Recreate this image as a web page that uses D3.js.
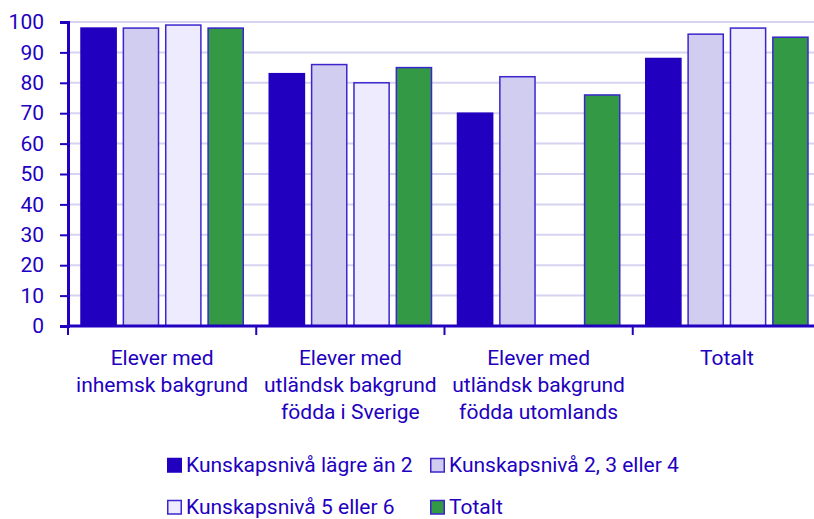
<!DOCTYPE html>
<html>
<head>
<meta charset="utf-8">
<script src="https://cdn.jsdelivr.net/npm/d3@7"></script>
<style>
  body { margin: 0; background: #fff; }
  text { font-family: Roboto, "Noto Sans", sans-serif; fill: #2200c0; }
</style>
</head>
<body>
<div id="chart"></div>
<script>
var svgWidth = 814;
var svgHeight = 519;

var categories = [
  ["Elever med", "inhemsk bakgrund"],
  ["Elever med", "utländsk bakgrund", "födda i Sverige"],
  ["Elever med", "utländsk bakgrund", "födda utomlands"],
  ["Totalt"]
];
var seriesNames = ["Kunskapsnivå lägre än 2", "Kunskapsnivå 2, 3 eller 4", "Kunskapsnivå 5 eller 6", "Totalt"];
var level1 = [98, 83, 70, 88];
var level234 = [98, 86, 82, 96];
var level56 = [99, 80, null, 98];
var totalt = [98, 85, 76, 95];
var yTicks = [0, 10, 20, 30, 40, 50, 60, 70, 80, 90, 100];

var colors = ["#2200c0", "#d1cdf0", "#edebfd", "#339944"];
var textColor = "#2200c0";

// plot runs a little past the right edge, like the original
var margin = { top: 22, right: -7, bottom: 193, left: 68 };
var width = svgWidth - margin.left - margin.right;
var height = svgHeight - margin.top - margin.bottom;

var seriesValues = [level1, level234, level56, totalt];
var data = categories.map((c, i) => ({
  idx: i,
  values: seriesValues.map((s, j) => ({ series: j, value: s[i] }))
}));

var svg = d3.select("#chart")
  .append("svg")
  .attr("width", svgWidth)
  .attr("height", svgHeight);

var chartGroup = svg.append("g")
  .attr("transform", `translate(${margin.left}, ${margin.top})`);

var x0 = d3.scaleBand()
  .domain(d3.range(categories.length))
  .range([0, width]);

var x1 = d3.scaleBand()
  .domain(d3.range(seriesNames.length))
  .range([13, x0.bandwidth() - 13])
  .paddingInner(0.17);

var y = d3.scaleLinear()
  .domain([0, 100])
  .range([height, 0]);

// gridlines
chartGroup.append("g")
  .selectAll("line")
  .data(yTicks.filter(d => d > 0))
  .enter()
  .append("line")
  .attr("x1", 0)
  .attr("x2", width)
  .attr("y1", d => y(d))
  .attr("y2", d => y(d))
  .attr("stroke", "#d6d3f0")
  .attr("stroke-width", 2);

// bars
var groups = chartGroup.selectAll(".group")
  .data(data)
  .enter()
  .append("g")
  .attr("transform", d => `translate(${x0(d.idx)}, 0)`);

groups.selectAll("rect")
  .data(d => d.values.filter(v => v.value != null))
  .enter()
  .append("rect")
  .attr("x", d => x1(d.series))
  .attr("y", d => y(d.value))
  .attr("width", x1.bandwidth())
  .attr("height", d => height - y(d.value))
  .attr("fill", d => colors[d.series])
  .attr("stroke", d => d.series === 0 ? colors[0] : "#3a26cc")
  .attr("stroke-width", 1.5);

// y axis
var leftAxis = d3.axisLeft(y).tickValues(yTicks).tickSize(8).tickPadding(16);
var yAxisG = chartGroup.append("g").call(leftAxis);
yAxisG.select(".domain").attr("stroke", textColor).attr("stroke-width", 3);
yAxisG.selectAll(".tick line").attr("stroke", textColor).attr("stroke-width", 2);
yAxisG.selectAll(".tick text")
  .attr("font-size", "21px")
  .attr("fill", textColor)
  .style("font-family", "Roboto, sans-serif");

// x axis
var xAxisG = chartGroup.append("g")
  .attr("transform", `translate(0, ${height})`);
xAxisG.append("line")
  .attr("x1", 0).attr("x2", width)
  .attr("stroke", textColor).attr("stroke-width", 3);
xAxisG.selectAll(".xtick")
  .data(d3.range(categories.length + 1))
  .enter()
  .append("line")
  .attr("x1", d => d < categories.length ? x0(d) : width)
  .attr("x2", d => d < categories.length ? x0(d) : width)
  .attr("y1", 0)
  .attr("y2", 9)
  .attr("stroke", textColor)
  .attr("stroke-width", 2);

var labels = xAxisG.selectAll(".xlabel")
  .data(data)
  .enter()
  .append("text")
  .attr("text-anchor", "middle")
  .attr("font-size", "21px")
  .attr("transform", d => `translate(${x0(d.idx) + x0.bandwidth() / 2}, 39)`);

labels.selectAll("tspan")
  .data(d => categories[d.idx])
  .enter()
  .append("tspan")
  .attr("x", 0)
  .attr("y", (d, i) => i * 27)
  .text(d => d);

// legend
var legendPos = [[167, 465], [430, 465], [167, 507], [430, 507]];
var legend = svg.selectAll(".legend")
  .data(seriesNames)
  .enter()
  .append("g")
  .attr("transform", (d, i) => `translate(${legendPos[i][0]}, ${legendPos[i][1]})`);

legend.append("rect")
  .attr("x", 0.75)
  .attr("y", -6.5)
  .attr("width", 13.5)
  .attr("height", 13.5)
  .attr("fill", (d, i) => colors[i])
  .attr("stroke", (d, i) => i === 0 ? colors[0] : "#3a26cc")
  .attr("stroke-width", 1.5);

legend.append("text")
  .attr("x", 19)
  .attr("y", 0)
  .attr("dy", "0.35em")
  .attr("font-size", "21px")
  .text(d => d);
</script>
</body>
</html>
